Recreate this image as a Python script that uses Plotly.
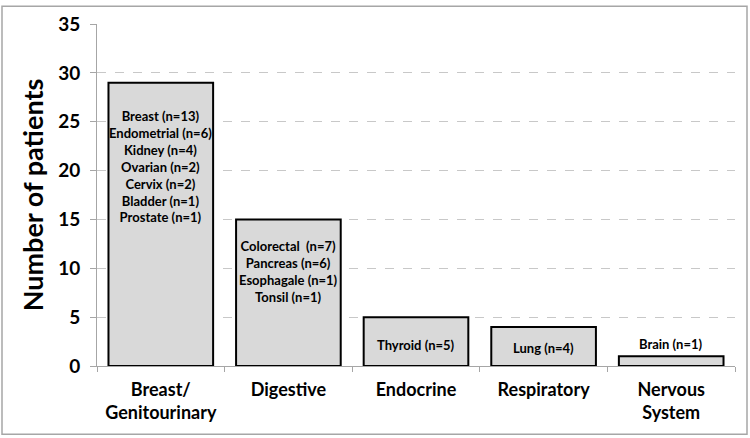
import plotly.graph_objects as go

# data
categories = ["Breast/<br>Genitourinary", "Digestive", "Endocrine", "Respiratory", "Nervous<br>System"]
patients = [29, 15, 5, 4, 1]
subtypes = [
    ["Breast (n=13)", "Endometrial (n=6)", "Kidney (n=4)", "Ovarian (n=2)",
     "Cervix (n=2)", "Bladder (n=1)", "Prostate (n=1)"],
    ["Colorectal  (n=7)", "Pancreas (n=6)", "Esophagale (n=1)", "Tonsil (n=1)"],
    ["Thyroid (n=5)"],
    ["Lung (n=4)"],
    ["Brain (n=1)"],
]
y_ticks = [0, 5, 10, 15, 20, 25, 30, 35]

# where the bar labels sit (y, data units)
label_y = [20.4, 9.7, 2.1, 1.8, 2.3]

W, H = 750, 438
margin = dict(l=97, r=15, t=20, b=72)
pw = W - margin["l"] - margin["r"]
ph = H - margin["t"] - margin["b"]

font = "Lato, 'Open Sans', sans-serif"

fig = go.Figure(go.Bar(
    x=categories,
    y=patients,
    marker=dict(color="#d9d9d9", line=dict(color="black", width=2)),
    hoverinfo="skip",
))

for cat, labels, ly in zip(categories, subtypes, label_y):
    fig.add_annotation(
        x=cat, y=ly, text="<br>".join(labels), showarrow=False,
        font=dict(family=font, size=13, color="black", weight="bold"),
        xanchor="center", yanchor="middle", align="center",
    )

# grey frame round the whole picture
fig.add_shape(
    type="rect", xref="paper", yref="paper",
    x0=(2 - margin["l"]) / pw, x1=(W - 3 - margin["l"]) / pw,
    y0=-(H - 3 - margin["t"] - ph) / ph, y1=1 + (margin["t"] - 2) / ph,
    line=dict(color="#a6a6a6", width=1.5), layer="below",
)

fig.update_layout(
    width=W, height=H,
    margin=margin,
    paper_bgcolor="white", plot_bgcolor="white",
    bargap=0.18,
    showlegend=False,
    font=dict(family=font, color="black"),
    xaxis=dict(
        showline=True, linecolor="#a6a6a6", linewidth=1,
        ticks="outside", ticklen=5, tickcolor="#a6a6a6",
        tickson="boundaries", ticklabelstandoff=7,
        tickfont=dict(size=18, family=font, weight="bold"),
        showgrid=False,
    ),
    yaxis=dict(
        range=[0, 35], tickvals=y_ticks,
        showline=True, linecolor="#a6a6a6", linewidth=1,
        ticks="outside", ticklen=6, tickcolor="#a6a6a6",
        ticklabelstandoff=6,
        showgrid=True, gridcolor="#c8c8c8", griddash="dash", gridwidth=1,
        zeroline=False,
        tickfont=dict(size=19, family=font, weight="bold"),
        title=dict(text="Number of patients", standoff=6,
                   font=dict(size=27, family=font, weight="bold")),
    ),
)

fig.write_html("out.html", config={"displayModeBar": False},
               post_script="document.body.style.margin='0';")
